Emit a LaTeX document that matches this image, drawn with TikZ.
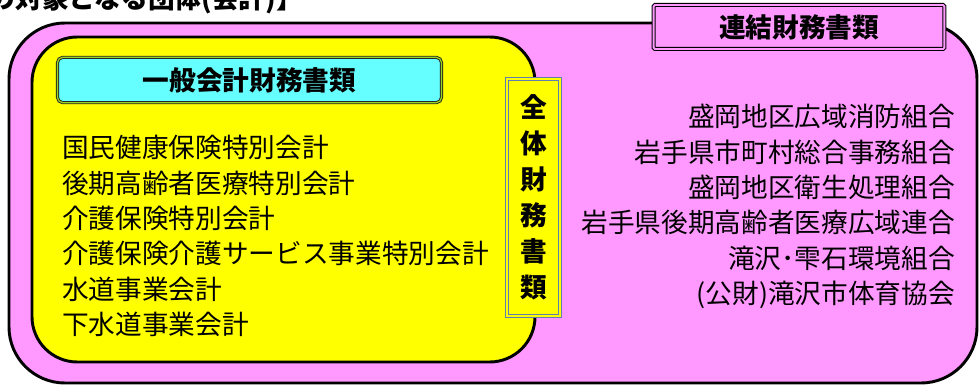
\documentclass[tikz,border=0pt]{standalone}
\usepackage{fontspec}
\newfontfamily\jpfont{Noto Sans CJK JP}
\usetikzlibrary{positioning}

\definecolor{renketsupink}{HTML}{FF99FF}
\definecolor{ippanyellow}{HTML}{FFFF00}
\definecolor{ippancyan}{HTML}{66FFFF}
\definecolor{zentaiblue}{HTML}{5F7FAF}

\tikzset{
  heading/.style={font=\jpfont\bfseries\fontsize{20}{27}\selectfont, inner sep=0pt},
  entries/.style={font=\jpfont\fontsize{20}{26.5}\selectfont, inner sep=0pt},
}

\begin{document}
\begin{tikzpicture}[x=0.75pt, y=-0.75pt]
  \useasboundingbox (0,0) rectangle (980,385);

  % title of the page, cut off at the top
  \node [heading, anchor=base east] (title) at (303,9) {【連結の対象となる団体(会計)】};

  % outer and inner frames
  \draw [fill=renketsupink, line width=2.2pt, rounded corners=42pt] (9,23) rectangle (977,383);
  \draw [fill=ippanyellow, line width=2.2pt, rounded corners=34pt] (32,37) rectangle (535,362);

  \node [heading, draw=black!85, fill=ippancyan, double=yellow!60!green, double distance=0.9pt,
         line width=0.7pt, rounded corners=4pt, minimum width=288pt, minimum height=34pt]
        (ippan) at (249.5,80) {一般会計財務書類};
  \node [heading, draw=black, fill=renketsupink, double=renketsupink, double distance=1.4pt,
         line width=0.8pt, rounded corners=1pt, minimum width=218pt, minimum height=33pt]
        (renketsu) at (799,27) {連結財務書類};
  \node [heading, draw=zentaiblue, fill=ippanyellow, double=ippanyellow, double distance=1.2pt,
         line width=0.9pt, minimum width=40pt, minimum height=178pt, align=center]
        (zentai) at (533.5,197.5) {全\\体\\財\\務\\書\\類};

  % member accounts
  \node [entries, anchor=north west, align=left] (tokubetsu) at (62,135)
        {国民健康保険特別会計\\後期高齢者医療特別会計\\介護保険特別会計\\
         介護保険介護サービス事業特別会計\\水道事業会計\\下水道事業会計};
  \node [entries, anchor=north east, align=right] (kumiai) at (955,104)
        {盛岡地区広域消防組合\\岩手県市町村総合事務組合\\盛岡地区衛生処理組合\\
         岩手県後期高齢者医療広域連合\\滝沢･雫石環境組合\\(公財)滝沢市体育協会};
\end{tikzpicture}
\end{document}
